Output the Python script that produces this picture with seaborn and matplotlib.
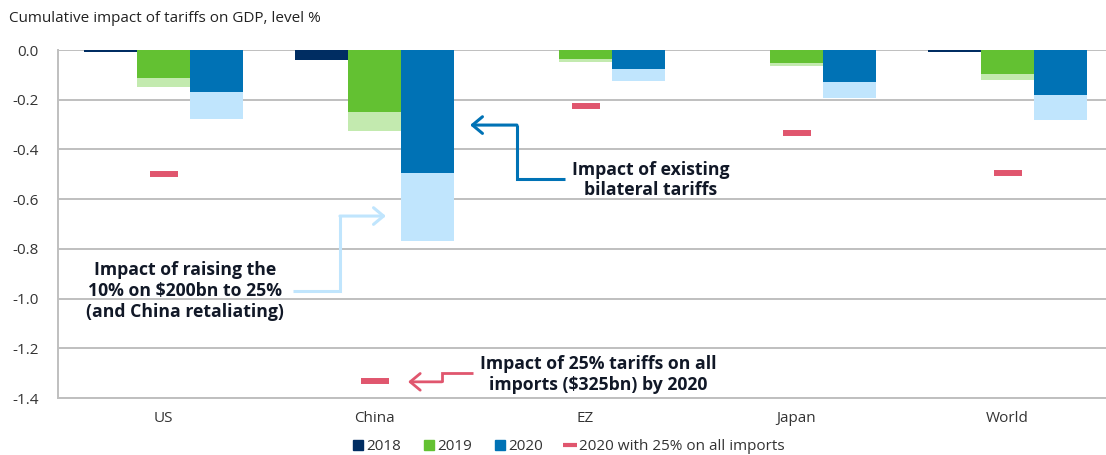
import numpy as np
import pandas as pd
import matplotlib
matplotlib.use("Agg")
import matplotlib.pyplot as plt
from matplotlib.lines import Line2D
import seaborn as sns

# Cumulative GDP impact of tariffs (level, %)
countries = ["US", "China", "EZ", "Japan", "World"]
impact_2018 = [-0.01, -0.04, 0.0, 0.0, -0.01]
impact_2019_existing = [-0.114, -0.25, -0.037, -0.054, -0.097]
impact_2019_raised = [-0.15, -0.325, -0.048, -0.064, -0.12]
impact_2020_existing = [-0.17, -0.496, -0.078, -0.127, -0.181]
impact_2020_raised = [-0.279, -0.77, -0.125, -0.194, -0.282]
impact_2020_all_imports = [-0.50, -1.33, -0.224, -0.335, -0.494]
years = ["2018", "2019", "2020"]
y_ticks = [0.0, -0.2, -0.4, -0.6, -0.8, -1.0, -1.2, -1.4]

NAVY = "#002D62"
GREEN = "#63C132"
LIGHT_GREEN = "#C3EAAF"
BLUE = "#0072B5"
LIGHT_BLUE = "#C0E5FD"
RED = "#E0566E"
GRID = "#BFBFBF"
TEXT = "#111827"

sns.set_theme(style="white")
plt.rcParams["font.family"] = ["Open Sans", "DejaVu Sans"]

fig = plt.figure(figsize=(11.06, 4.55), dpi=100)
ax = fig.add_axes([58 / 1106, 1 - 398 / 455, 1055 / 1106, 348 / 455])


def long_frame(v18, v19, v20):
    rows = []
    for i, c in enumerate(countries):
        for y, vals in zip(years, (v18, v19, v20)):
            rows.append({"country": c, "year": y, "value": vals[i]})
    return pd.DataFrame(rows)


bar_kw = dict(x="country", y="value", hue="year", hue_order=years, order=countries,
              width=0.75, saturation=1, errorbar=None, legend=False,
              linewidth=0, edgecolor="none", ax=ax)

# lighter layer: extra impact of raising the 10% on $200bn to 25%
sns.barplot(data=long_frame(impact_2018, impact_2019_raised, impact_2020_raised),
            palette={"2018": NAVY, "2019": LIGHT_GREEN, "2020": LIGHT_BLUE}, **bar_kw)
# solid layer: existing bilateral tariffs
sns.barplot(data=long_frame(impact_2018, impact_2019_existing, impact_2020_existing),
            palette={"2018": NAVY, "2019": GREEN, "2020": BLUE}, **bar_kw)

# 2020 with 25% on all imports
sns.scatterplot(x=np.arange(len(countries)), y=impact_2020_all_imports, marker="_",
                s=19.5 ** 2, linewidth=4.3, color=RED, ax=ax, zorder=4, legend=False)

ax.set_xlim(-0.5, len(countries) - 0.5)
ax.set_ylim(-1.4, 0)
ax.set_yticks(y_ticks)
ax.set_yticklabels([f"{abs(v):.1f}" if v == 0 else f"{v:.1f}" for v in y_ticks])
ax.set_xticks(range(len(countries)))
ax.set_xticklabels(countries)
ax.set_xlabel("")
ax.set_ylabel("")
ax.set_axisbelow(True)
ax.yaxis.grid(True, color=GRID, lw=1.4)
ax.xaxis.grid(False)
for side in ("top", "right"):
    ax.spines[side].set_visible(False)
for side in ("left", "bottom"):
    ax.spines[side].set_color(GRID)
    ax.spines[side].set_linewidth(1.4)
ax.tick_params(axis="y", length=0, pad=14, labelsize=11, labelcolor="#333333")
ax.tick_params(axis="x", length=0, pad=9, labelsize=11, labelcolor="#333333")


def elbow_arrow(points, color, lw=2.2):
    xs, ys = zip(*points)
    ax.plot(xs[:-1], ys[:-1], color=color, lw=lw, solid_joinstyle="miter",
            solid_capstyle="butt", zorder=5)
    ax.annotate("", xy=points[-1], xytext=points[-2], zorder=5,
                arrowprops=dict(arrowstyle="->,head_length=0.6,head_width=0.5",
                                color=color, lw=lw, shrinkA=0, shrinkB=0))


elbow_arrow([(1.904, -0.519), (1.675, -0.519), (1.675, -0.302), (1.453, -0.302)], BLUE)
elbow_arrow([(0.614, -0.969), (0.836, -0.969), (0.836, -0.668), (1.054, -0.668)], LIGHT_BLUE)
elbow_arrow([(1.467, -1.299), (1.320, -1.299), (1.320, -1.335), (1.159, -1.335)], RED, lw=2.0)

note_kw = dict(ha="center", va="center", fontweight="bold", fontsize=12.7,
               linespacing=1.2, color=TEXT, zorder=6)
ax.text(2.31, -0.523, "Impact of existing\nbilateral tariffs", **note_kw)
ax.text(0.102, -0.969, "Impact of raising the\n10% on $200bn to 25%\n(and China retaliating)", **note_kw)
ax.text(2.059, -1.307, "Impact of 25% tariffs on all\nimports ($325bn) by 2020", **note_kw)

fig.text(9 / 1106, 1 - 18 / 455, "Cumulative impact of tariffs on GDP, level %",
         ha="left", va="center", fontsize=11, color="#222222")

handles = [
    Line2D([], [], ls="", marker="s", ms=7, color=NAVY),
    Line2D([], [], ls="", marker="s", ms=7, color=GREEN),
    Line2D([], [], ls="", marker="s", ms=7, color=BLUE),
    Line2D([], [], ls="", marker="_", ms=10, mew=3, color=RED),
]
fig.legend(handles, ["2018", "2019", "2020", "2020 with 25% on all imports"],
           loc="center", bbox_to_anchor=(569 / 1106, 1 - 447 / 455), ncol=4,
           frameon=False, fontsize=11, handlelength=0.6, handletextpad=0.25,
           columnspacing=1.5, labelcolor="#333333")

fig.savefig("out.png", dpi=100)
